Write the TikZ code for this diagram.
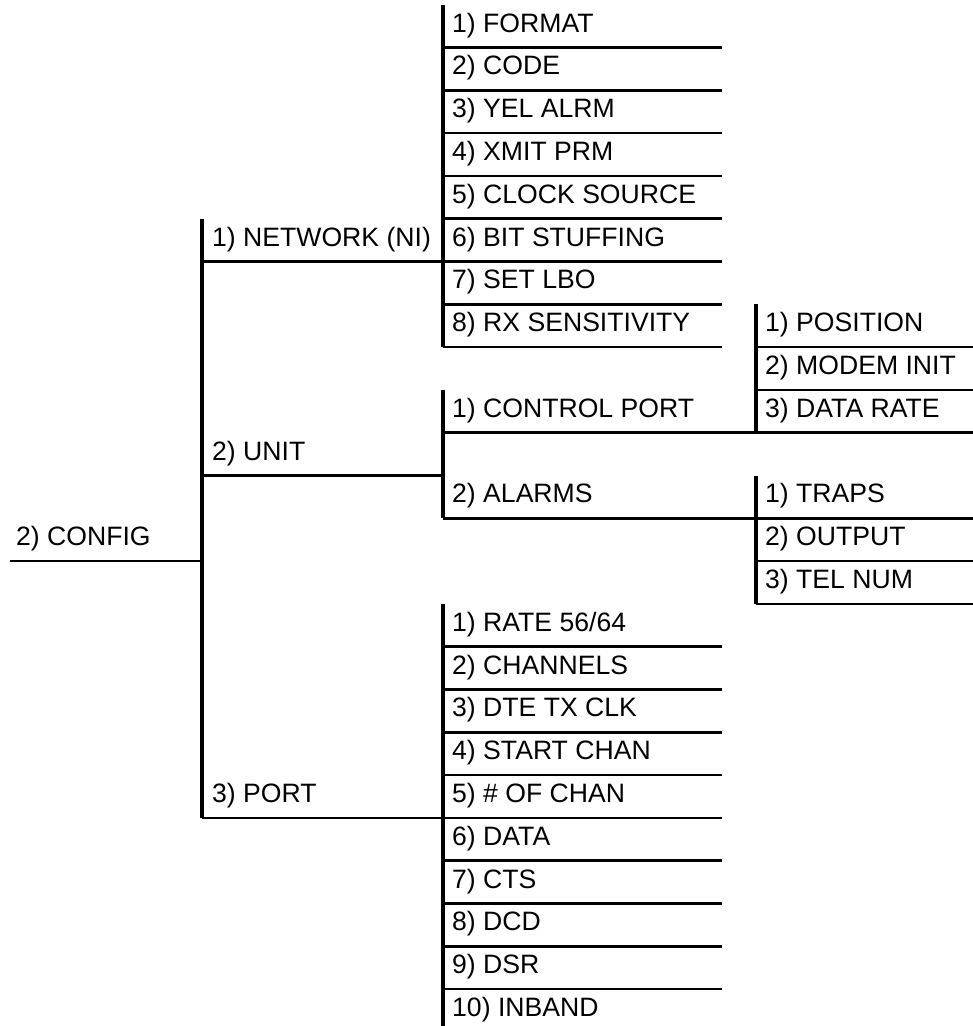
\documentclass[tikz,border=0pt]{standalone}
\usepackage{fontspec}
\setmainfont{Liberation Sans}
\usetikzlibrary{positioning}
\tikzset{
  menu/.style={
    anchor = base west,
    inner sep = 0pt,
    font = \fontsize{26.6}{30}\selectfont
  },
  rule/.style={
    line width = 2.7pt
  },
  bar/.style={
    line width = 3.1pt
  },
}

\begin{document}
\begin{tikzpicture}[x=1pt, y=-1pt]
    \def\rowh{42.8}
    \def\yo{47.5}
    \def\xb{202}
    \def\xc{443}
    \def\xd{756}
    \useasboundingbox (0,0) rectangle (973,1026);
    % root
    \node[menu] (cfg) at (16, {\yo+12*\rowh-15.5}) {2) CONFIG};
    \draw[rule] (cfg.base west) ++(-6,15.5) -- (\xb, {\yo+12*\rowh});
    % level 1
    \coordinate (lvtop) at (\xb, {\yo+4*\rowh});
    \coordinate (lvbot) at (\xb, {\yo+18*\rowh});
    \draw[bar] (lvtop) -- (lvbot);
    \node[menu] (lv1) at (\xb+10, {\yo+5*\rowh-15.5}) {1) NETWORK (NI)};
    \node[menu] (lv2) at (\xb+10, {\yo+10*\rowh-15.5}) {2) UNIT};
    \node[menu] (lv3) at (\xb+10, {\yo+18*\rowh-15.5}) {3) PORT};
    \foreach \n in {lv1,lv2,lv3}
      \draw[rule] (\n.base west) ++(-10,15.5) -- ++(241,0);
    % network (NI)
    \draw[bar] (\xc, {\yo-\rowh}) -- (\xc, {\yo+7*\rowh});
    \foreach \t [count=\i] in {1) FORMAT, 2) CODE, 3) YEL ALRM, 4) XMIT PRM,
        5) CLOCK SOURCE, 6) BIT STUFFING, 7) SET LBO, 8) RX SENSITIVITY} {
      \node[menu] (ni\i) at (\xc+9, {\yo+(\i-1)*\rowh-15.5}) {\t};
      \draw[rule] (ni\i.base west) ++(-9,15.5) -- ++(279,0);
    }
    % unit
    \draw[bar] (\xc, {\yo+8*\rowh}) -- (\xc, {\yo+11*\rowh});
    \node[menu] (un1) at (\xc+9, {\yo+9*\rowh-15.5}) {1) CONTROL PORT};
    \node[menu] (un2) at (\xc+9, {\yo+11*\rowh-15.5}) {2) ALARMS};
    \foreach \n in {un1,un2}
      \draw[rule] (\n.base west) ++(-9,15.5) -- ++(530,0);
    % control port
    \draw[bar] (\xd, {\yo+6*\rowh}) -- (\xd, {\yo+9*\rowh});
    \foreach \t [count=\i] in {1) POSITION, 2) MODEM INIT, 3) DATA RATE} {
      \node[menu] (cp\i) at (\xd+9, {\yo+(\i+6)*\rowh-15.5}) {\t};
      \draw[rule] (cp\i.base west) ++(-9,15.5) -- ++(217,0);
    }
    % alarms
    \draw[bar] (\xd, {\yo+10*\rowh}) -- (\xd, {\yo+13*\rowh});
    \foreach \t [count=\i] in {1) TRAPS, 2) OUTPUT, 3) TEL NUM} {
      \node[menu] (al\i) at (\xd+9, {\yo+(\i+10)*\rowh-15.5}) {\t};
      \draw[rule] (al\i.base west) ++(-9,15.5) -- ++(217,0);
    }
    % port
    \draw[bar] (\xc, {\yo+13*\rowh}) -- (\xc, 1026);
    \foreach \t [count=\i] in {1) RATE 56/64, 2) CHANNELS, 3) DTE TX CLK,
        4) START CHAN, 5) \# OF CHAN, 6) DATA, 7) CTS, 8) DCD, 9) DSR} {
      \node[menu] (pt\i) at (\xc+9, {\yo+(\i+13)*\rowh-15.5}) {\t};
      \draw[rule] (pt\i.base west) ++(-9,15.5) -- ++(279,0);
    }
    \node[menu] (pt10) at (\xc+9, {\yo+23*\rowh-15.5}) {10) INBAND};
\end{tikzpicture}
\end{document}
